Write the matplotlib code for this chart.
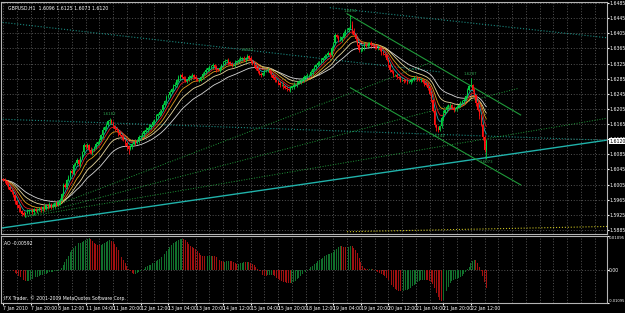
import numpy as np
import pandas as pd
import matplotlib.pyplot as plt

# GBPUSD H1 from 7 Jan 2010 04:00, closes in pips above 1.5800
closes = [
    217, 214, 205, 198, 190, 185, 176, 162, 150, 142, 135, 128, 124, 130, 134, 137,
    137, 131, 140, 136, 137, 143, 139, 146, 141, 150, 147, 152, 145, 150, 155, 150,
    158, 164, 180, 204, 198, 217, 225, 240, 236, 257, 262, 270, 258, 275, 290, 310,
    304, 310, 296, 288, 296, 305, 312, 318, 323, 335, 350, 358, 363, 372, 376, 368,
    360, 352, 348, 340, 336, 330, 322, 314, 306, 300, 304, 312, 318, 316, 322, 330,
    334, 338, 345, 350, 354, 358, 362, 370, 376, 385, 390, 396, 402, 415, 425, 436,
    442, 450, 458, 465, 469, 480, 488, 495, 490, 485, 480, 482, 488, 492, 495, 490,
    485, 482, 482, 490, 498, 503, 508, 512, 515, 518, 521, 515, 510, 508, 512, 520,
    528, 532, 535, 528, 524, 521, 521, 528, 532, 535, 538, 540, 536, 540, 545, 540,
    532, 525, 521, 512, 505, 498, 495, 500, 505, 508, 508, 500, 495, 488, 482, 478,
    472, 469, 469, 465, 460, 458, 455, 460, 464, 469, 469, 474, 478, 482, 482, 488,
    492, 495, 495, 502, 510, 515, 521, 526, 530, 535, 540, 545, 548, 552, 548, 565,
    580, 601, 595, 588, 588, 596, 605, 614, 614, 620, 627, 610, 601, 590, 575, 561,
    561, 568, 575, 572, 575, 580, 575, 572, 570, 567, 567, 562, 555, 550, 548, 535,
    520, 508, 502, 495, 495, 490, 486, 482, 482, 480, 478, 476, 476, 480, 484, 487,
    487, 485, 482, 482, 476, 472, 469, 460, 445, 429, 400, 363, 355, 349, 360, 380,
    395, 402, 410, 415, 415, 408, 402, 405, 410, 415, 420, 425, 429, 440, 455, 465,
    469, 455, 442, 420, 402, 385, 363, 330, 296, 320,
]
first_open = 220

# wick lengths in pips above / below the candle body
up_wick = [
    3, 6, 3, 6, 3, 6, 3, 3, 3, 3, 6, 3, 6, 3, 6, 3,
    3, 6, 3, 3, 6, 3, 6, 3, 6, 3, 3, 6, 3, 6, 3, 6,
    3, 6, 3, 6, 6, 3, 6, 3, 6, 6, 3, 6, 3, 6, 3, 6,
    3, 6, 3, 9, 6, 3, 6, 3, 6, 3, 6, 3, 6, 3, 6, 3,
    6, 3, 6, 3, 6, 3, 6, 3, 6, 3, 6, 3, 3, 6, 3, 6,
    3, 6, 3, 6, 3, 6, 3, 6, 3, 6, 3, 6, 3, 6, 3, 6,
    3, 6, 3, 6, 6, 3, 6, 3, 6, 3, 6, 3, 6, 3, 6, 3,
    6, 3, 6, 3, 6, 3, 6, 3, 6, 3, 6, 3, 6, 3, 6, 3,
    3, 6, 3, 6, 3, 6, 3, 6, 3, 6, 6, 3, 6, 3, 6, 3,
    6, 3, 6, 3, 6, 3, 6, 3, 6, 3, 6, 3, 6, 3, 6, 3,
    3, 6, 3, 6, 3, 6, 3, 6, 3, 6, 3, 6, 3, 6, 3, 6,
    3, 6, 3, 6, 3, 6, 3, 6, 3, 6, 3, 6, 3, 6, 3, 6,
    3, 6, 3, 6, 9, 3, 6, 3, 6, 3, 27, 12, 9, 6, 3, 6,
    6, 3, 6, 3, 6, 3, 6, 3, 6, 3, 6, 3, 6, 3, 6, 3,
    3, 6, 3, 6, 3, 6, 3, 6, 3, 6, 3, 6, 3, 6, 3, 6,
    3, 6, 3, 6, 3, 6, 3, 6, 3, 6, 3, 6, 3, 6, 3, 6,
    6, 3, 6, 3, 6, 3, 6, 3, 6, 3, 6, 3, 6, 3, 6, 3,
    18, 3, 6, 3, 6, 3, 6, 3, 6, 5,
]
lo_wick = [
    3, 6, 3, 6, 3, 6, 3, 9, 6, 9, 3, 6, 3, 6, 3, 6,
    6, 3, 6, 3, 6, 3, 6, 3, 6, 3, 6, 3, 6, 3, 6, 3,
    3, 6, 3, 6, 3, 6, 3, 6, 3, 6, 3, 6, 3, 6, 3, 6,
    6, 3, 6, 3, 6, 3, 6, 3, 6, 3, 6, 3, 6, 3, 6, 3,
    3, 6, 3, 6, 3, 6, 3, 6, 9, 15, 3, 6, 3, 6, 3, 6,
    6, 3, 6, 3, 6, 3, 6, 3, 6, 3, 6, 3, 6, 3, 6, 3,
    3, 6, 3, 6, 3, 6, 3, 6, 3, 6, 3, 6, 3, 6, 3, 6,
    6, 3, 6, 3, 6, 3, 6, 3, 6, 3, 6, 3, 6, 3, 6, 3,
    3, 6, 3, 6, 3, 6, 3, 6, 3, 6, 3, 6, 3, 6, 3, 6,
    6, 3, 6, 3, 6, 3, 6, 3, 6, 3, 6, 3, 6, 3, 6, 3,
    3, 6, 3, 6, 3, 6, 3, 6, 3, 6, 3, 6, 3, 6, 3, 6,
    6, 3, 6, 3, 6, 3, 6, 3, 6, 3, 6, 3, 6, 3, 6, 3,
    3, 6, 3, 6, 3, 6, 3, 6, 3, 6, 3, 6, 3, 6, 3, 6,
    6, 3, 6, 3, 6, 3, 6, 3, 6, 3, 6, 3, 6, 3, 6, 3,
    3, 6, 3, 6, 3, 6, 3, 6, 3, 6, 3, 6, 3, 6, 3, 6,
    3, 6, 3, 6, 3, 6, 3, 6, 3, 6, 3, 6, 9, 6, 3, 6,
    6, 3, 6, 3, 6, 3, 6, 3, 6, 3, 6, 3, 6, 3, 6, 3,
    3, 6, 3, 6, 3, 6, 3, 6, 6, 23,
]

xlabels = ["7 Jan 2010", "7 Jan 20:00", "8 Jan 12:00", "11 Jan 04:00", "11 Jan 20:00",
           "12 Jan 12:00", "13 Jan 04:00", "13 Jan 20:00", "14 Jan 12:00", "15 Jan 04:00",
           "15 Jan 20:00", "18 Jan 12:00", "19 Jan 04:00", "19 Jan 20:00", "20 Jan 12:00",
           "21 Jan 04:00", "21 Jan 20:00", "22 Jan 12:00"]
price_ticks = [1.5885, 1.5925, 1.5965, 1.6005, 1.6045, 1.6085, 1.6125, 1.6165,
               1.6205, 1.6245, 1.6285, 1.6325, 1.6365, 1.6405, 1.6445, 1.6485]

# swing points that carry a small price tag: (bar, "high"/"low")
pivots = [(62, "high"), (142, "high"), (202, "high"), (253, "low"), (272, "high"), (281, "low")]

# trendline objects: (bar1, price1, bar2, price2, colour, style, width)
trendlines = [
    (-2, 1.5889, 352, 1.6123, "#20b2aa", "-", 1.0),
    (-2, 1.6435, 254, 1.6303, "#1a8a80", ":", 0.8),
    (-2, 1.6178, 352, 1.6122, "#1a8a80", ":", 0.8),
    (190, 1.6473, 352, 1.6393, "#1a8a80", ":", 0.8),
    (200, 1.6457, 301, 1.6189, "#1f9a3a", "-", 0.8),
    (202, 1.6261, 301, 1.6004, "#1f9a3a", "-", 0.8),
    (13, 1.5919, 352, 1.6181, "#1f9a3a", ":", 0.7),
    (13, 1.5919, 300, 1.6260, "#1f9a3a", ":", 0.7),
    (13, 1.5919, 250, 1.6330, "#1f9a3a", ":", 0.7),
    (200, 1.5880, 352, 1.5894, "#c8c020", ":", 0.8),
]

plt.rcParams["font.family"] = ["Liberation Sans Narrow", "DejaVu Sans"]

c = np.array(closes) / 10000 + 1.58
o = np.concatenate([[first_open / 10000 + 1.58], c[:-1]])
hi = np.maximum(o, c) + np.array(up_wick) / 10000
lo = np.minimum(o, c) - np.array(lo_wick) / 10000
n = len(c)
bars = np.arange(n)

W, H = 625, 313
FS = 3.3
fig = plt.figure(figsize=(W / 100, H / 100), dpi=100, facecolor="black")
ax = fig.add_axes([1 / W, 1 - 234 / H, 606 / W, 232 / H], facecolor="black")
sub = fig.add_axes([1 / W, 1 - 303 / H, 606 / W, 67 / H], facecolor="black")

grid_kw = dict(color="#6e6e6e", lw=0.5, ls=(0, (1.5, 2.5)))
for a in (ax, sub):
    for s in a.spines.values():
        s.set_color("#b4b4b4")
        s.set_linewidth(0.8)
    a.set_xlim(-1.2, 351.2)
    for b in range(0, 352, 8):
        a.axvline(b, **grid_kw, zorder=0)

for p in price_ticks:
    ax.axhline(p, **grid_kw, zorder=0)
sub.axhline(0, **grid_kw, zorder=0)

ax.set_ylim(1.5874, 1.6488)

# moving averages
close_s = pd.Series(c)
for span, col in [(34, "#d8d8d8"), (21, "#e8d8a0"), (13, "#e0a020"), (8, "#e02020"), (5, "#20b0b0")]:
    ax.plot(bars, close_s.ewm(span=span, adjust=False).mean(), color=col, lw=0.6, zorder=2)

for x1, y1, x2, y2, col, ls, lw in trendlines:
    ax.plot([x1, x2], [y1, y2], color=col, ls=ls, lw=lw, zorder=1)

# candles
up = c >= o
ax.vlines(bars[up], lo[up], hi[up], color="#00d040", lw=0.6, zorder=3)
ax.vlines(bars[~up], lo[~up], hi[~up], color="#ff1010", lw=0.6, zorder=3)
ax.bar(bars, np.abs(c - o) + 0.00004, bottom=np.minimum(o, c), width=0.7,
       color=np.where(up, "#00d040", "#ff1010"), zorder=3)

for b, kind in pivots:
    if kind == "high":
        ax.text(b, hi[b] + 0.0004, "%.4f" % hi[b], color="#2e9e4e", fontsize=2.8,
                ha="center", va="bottom", zorder=4)
    else:
        ax.text(b, lo[b] - 0.0004, "%.4f" % lo[b], color="#2e9e4e", fontsize=2.8,
                ha="center", va="top", zorder=4)

ax.set_yticks(price_ticks)
ax.set_yticklabels(["%.4f" % p for p in price_ticks])
ax.yaxis.tick_right()
ax.tick_params(axis="y", colors="white", labelsize=FS, length=1.2, pad=0.4)
ax.tick_params(axis="x", bottom=False, labelbottom=False)
ax.text(352.4, c[-1], "%.4f" % c[-1], fontsize=FS, color="black",
        va="center", ha="left", bbox=dict(fc="white", ec="none", pad=0.3), clip_on=False)
ax.text(0.012, 0.985, "GBPUSD,H1  %.4f %.4f %.4f %.4f" % (o[-1], hi[-1], lo[-1], c[-1]),
        transform=ax.transAxes, color="white", fontsize=FS, va="top")

# Awesome Oscillator
med = pd.Series((hi + lo) / 2)
ao = (med.rolling(5, min_periods=1).mean() - med.rolling(34, min_periods=1).mean()).values
rising = np.concatenate([[True], ao[1:] > ao[:-1]])
sub.bar(bars, ao, width=0.55, color=np.where(rising, "#11702c", "#a01010"), zorder=2)
sub.set_ylim(-0.01095, 0.01095)
sub.set_yticks([0.01095, 0.0, -0.01095])
sub.set_yticklabels(["0.01095", "0.00", "-0.01095"])
sub.yaxis.tick_right()
sub.tick_params(axis="y", colors="white", labelsize=FS, length=1.2, pad=0.3)
ylab = sub.get_yticklabels()
ylab[0].set_verticalalignment("top")
ylab[0].set_fontsize(2.8)
ylab[2].set_verticalalignment("bottom")
ylab[2].set_fontsize(2.6)
sub.set_xticks(range(0, 16 * len(xlabels), 16))
sub.set_xticklabels(xlabels, ha="left")
sub.tick_params(axis="x", colors="white", labelsize=FS, length=1.5, pad=1)
sub.text(0.005, 0.93, "AO %.5f" % ao[-1], transform=sub.transAxes, color="white",
         fontsize=FS, va="top")
sub.text(0.005, 0.03, "IFX Trader, \u00a9 2001-2009 MetaQuotes Software Corp.",
         transform=sub.transAxes, color="white", fontsize=FS, va="bottom")

fig.savefig("out.png", dpi=100, facecolor="black")
